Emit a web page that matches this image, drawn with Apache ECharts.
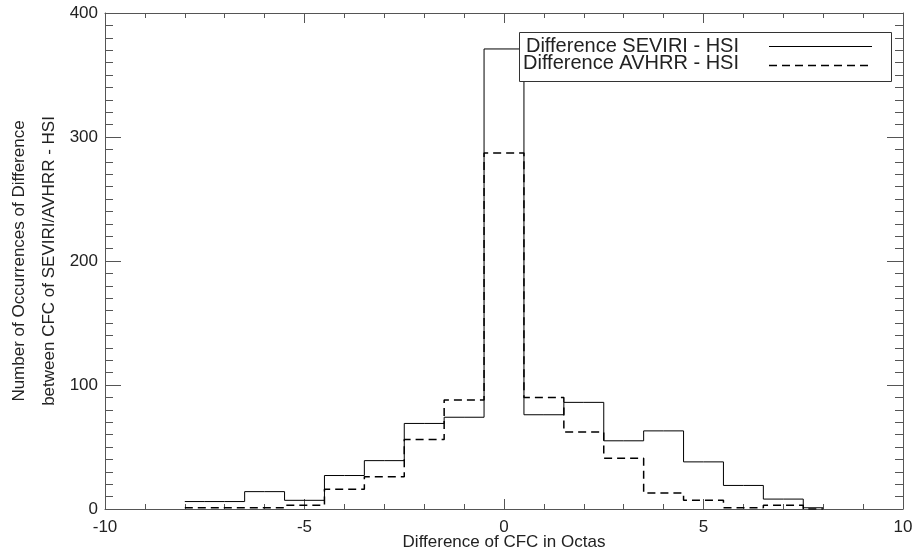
<!DOCTYPE html>
<html>
<head>
<meta charset="utf-8">
<script src="https://cdn.jsdelivr.net/npm/echarts@6/dist/echarts.min.js"></script>
<style>
  html, body { margin: 0; padding: 0; background: #fff; }
  #chart { width: 914px; height: 554px; }
</style>
</head>
<body>
<div id="chart"></div>
<script>
// bin centres (octas)
const bins = [-8, -7, -6, -5, -4, -3, -2, -1, 0, 1, 2, 3, 4, 5, 6, 7, 8];
// counts
const seviriCounts = [6, 6, 14, 7, 27, 39, 69, 74, 371, 76, 86, 55, 63, 38, 19, 8, 1];
const avhrrCounts = [1, 1, 1, 3, 16, 26, 56, 88, 287, 90, 62, 41, 13, 7, 1, 3, 0];
const legendNames = ["Difference SEVIRI - HSI", "Difference AVHRR - HSI"];

const font = "Liberation Sans, Arial, Helvetica, sans-serif";
const axisColor = "#555";
const textColor = "#222";

const chart = echarts.init(document.getElementById("chart"));

function xAxisDef(pos, showLabels) {
  return {
    type: "value",
    position: pos,
    min: -10,
    max: 10,
    interval: 5,
    name: showLabels ? "Difference of CFC in Octas" : "",
    nameLocation: "middle",
    nameGap: 25,
    nameMoveOverlap: false,
    nameTextStyle: { fontFamily: font, fontSize: 17, color: textColor },
    axisLine: { show: true, onZero: false, lineStyle: { color: axisColor, width: 1 } },
    axisTick: { show: true, inside: true, length: 10, lineStyle: { color: axisColor } },
    minorTick: { show: true, splitNumber: 5, length: 5, lineStyle: { color: axisColor } },
    axisLabel: { show: showLabels, margin: 10, fontFamily: font, fontSize: 17, color: textColor },
    splitLine: { show: false },
    minorSplitLine: { show: false }
  };
}

function yAxisDef(pos, showLabels) {
  return {
    type: "value",
    position: pos,
    min: 0,
    max: 400,
    interval: 100,
    name: showLabels ? "Number of Occurrences of Difference\nbetween CFC of SEVIRI/AVHRR - HSI" : "",
    nameLocation: "middle",
    nameRotate: 90,
    nameGap: 41,
    nameMoveOverlap: false,
    nameTextStyle: { fontFamily: font, fontSize: 17, color: textColor, lineHeight: 30 },
    axisLine: { show: true, onZero: false, lineStyle: { color: axisColor, width: 1 } },
    axisTick: { show: true, inside: true, length: 16, lineStyle: { color: axisColor } },
    minorTick: { show: true, splitNumber: 10, length: 8, lineStyle: { color: axisColor } },
    axisLabel: { show: showLabels, margin: 7, fontFamily: font, fontSize: 17, color: textColor },
    splitLine: { show: false },
    minorSplitLine: { show: false }
  };
}

const option = {
  animation: false,
  backgroundColor: "#fff",
  grid: { left: 105, right: 11, top: 13, bottom: 45, containLabel: false, outerBoundsMode: "none" },
  xAxis: [xAxisDef("bottom", true), xAxisDef("top", false)],
  yAxis: [yAxisDef("left", true), yAxisDef("right", false)],
  series: [
    {
      name: legendNames[0],
      type: "line",
      step: "middle",
      showSymbol: false,
      data: bins.map((b, i) => [b, seviriCounts[i]]),
      lineStyle: { color: "#000", width: 1 },
      itemStyle: { color: "#000" }
    },
    {
      name: legendNames[1],
      type: "line",
      step: "middle",
      showSymbol: false,
      data: bins.map((b, i) => [b, avhrrCounts[i]]),
      lineStyle: { color: "#000", width: 1.5, type: [8, 5] },
      itemStyle: { color: "#000" }
    }
  ],
  // legend box drawn like the original plot's
  graphic: [
    {
      type: "rect",
      shape: { x: 519.5, y: 32.5, width: 372, height: 49 },
      style: { fill: "#fff", stroke: "#333", lineWidth: 1 },
      z: 100
    },
    {
      type: "text",
      x: 739, y: 46,
      style: { text: legendNames[0], font: "20px " + font, fill: textColor, align: "right", verticalAlign: "middle" },
      z: 101
    },
    {
      type: "text",
      x: 739, y: 63,
      style: { text: legendNames[1], font: "20px " + font, fill: textColor, align: "right", verticalAlign: "middle" },
      z: 101
    },
    {
      type: "line",
      shape: { x1: 769, y1: 46.5, x2: 872, y2: 46.5 },
      style: { stroke: "#000", lineWidth: 1 },
      z: 101
    },
    {
      type: "line",
      shape: { x1: 769, y1: 65.5, x2: 872, y2: 65.5 },
      style: { stroke: "#000", lineWidth: 1.5, lineDash: [8, 5] },
      z: 101
    }
  ]
};

chart.setOption(option);
</script>
</body>
</html>
